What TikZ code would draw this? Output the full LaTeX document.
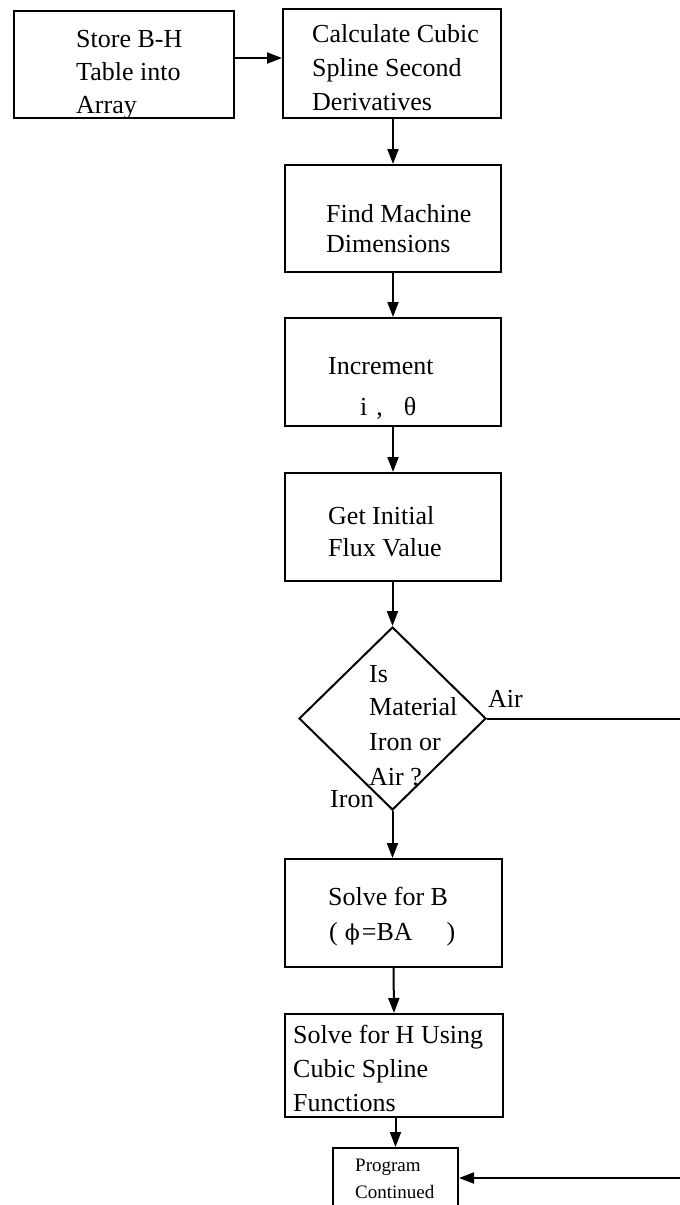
\documentclass[tikz,border=0pt]{standalone}
\usepackage{fontspec}
\setmainfont{Liberation Serif}
\newfontfamily\grk{DejaVu Serif}
\usetikzlibrary{arrows.meta,shapes.geometric}
\begin{document}
\begin{tikzpicture}[x=1pt,y=-1pt,
  box/.style={draw, line width=2pt, rectangle, inner sep=0pt, anchor=north west},
  ln/.style={anchor=base west, inner sep=0pt, font=\fontsize{26}{31}\selectfont},
  sm/.style={anchor=base west, inner sep=0pt, font=\fontsize{19}{23}\selectfont},
  flow/.style={line width=2pt, -{Triangle[width=11pt,length=15pt]}}]
\useasboundingbox (0,0) rectangle (680,1205);

% boxes
\node[box, minimum width=220pt, minimum height=107pt] (b1) at (13,10) {};
\node[box, minimum width=218pt, minimum height=109pt] (b2) at (282,8) {};
\node[box, minimum width=216pt, minimum height=107pt] (b3) at (284,164) {};
\node[box, minimum width=216pt, minimum height=108pt] (b4) at (284,317) {};
\node[box, minimum width=216pt, minimum height=108pt] (b5) at (284,472) {};
\node[diamond, draw, line width=2pt, inner sep=0pt, minimum width=187pt, minimum height=183pt] (d) at (392.5,718.5) {};
\node[box, minimum width=217pt, minimum height=108pt] (b6) at (284,858) {};
\node[box, minimum width=218pt, minimum height=103pt] (b7) at (284,1013) {};
\node[box, minimum width=125pt, minimum height=70pt] (b8) at (332,1147) {};

% texts
\node[ln] (t1a) at (76,47) {Store B-H};
\node[ln] (t1b) at (76,80) {Table into};
\node[ln] (t1c) at (76,113) {Array};

\node[ln] (t2a) at (312,42) {Calculate Cubic};
\node[ln] (t2b) at (312,76) {Spline Second};
\node[ln] (t2c) at (312,110) {Derivatives};

\node[ln] (t3a) at (326,222) {Find Machine};
\node[ln] (t3b) at (326,252) {Dimensions};

\node[ln] (t4a) at (328,374) {Increment};
\node[ln] (t4b) at (360,415) {i\hspace{9pt},\hspace{21pt}θ};

\node[ln] (t5a) at (328,524) {Get Initial};
\node[ln] (t5b) at (328,556) {Flux Value};

\node[ln] (tda) at (369,682) {Is};
\node[ln] (tdb) at (369,715) {Material};
\node[ln] (tdc) at (369,750) {Iron or};
\node[ln] (tdd) at (369,785) {Air ?};

\node[ln] (t6a) at (328,905) {Solve for B};
\node[ln] (t6b) at (329,940) {(\hspace{7pt}{\grk\fontsize{22}{26}\selectfont ϕ}\hspace{2pt}=BA\hspace{34pt})};

\node[ln] (t7a) at (293,1043) {Solve for H Using};
\node[ln] (t7b) at (293,1077) {Cubic Spline};
\node[ln] (t7c) at (293,1111) {Functions};

\node[sm] (t8a) at (355,1171) {Program};
\node[sm] (t8b) at (355,1198) {Continued};

% labels
\node[ln] (lair) at (488,707) {Air};
\node[ln] (liron) at (330,807) {Iron};

% connectors
\draw[flow] ([yshift=6.5pt]b1.east) -- ([yshift=6.5pt]b1.east -| b2.west);
\draw[flow] (b3.north |- b2.south) -- (b3.north);
\draw[flow] (b3.south) -- (b4.north);
\draw[flow] (b4.south) -- (b5.north);
\draw[flow] (d.north |- b5.south) -- (d.north);
\draw[flow] (d.south) -- (b6.north -| d.south);
\draw[flow] (b6.south) -- (b7.north);
\draw[flow] (b8.north |- b7.south) -- (b8.north);
\coordinate (r1) at (686,718.5);
\coordinate (r2) at (686,1178);
\draw[flow] (d.east) -- (r1) -- (r2) -- (r2 -| b8.east);
\end{tikzpicture}
\end{document}
